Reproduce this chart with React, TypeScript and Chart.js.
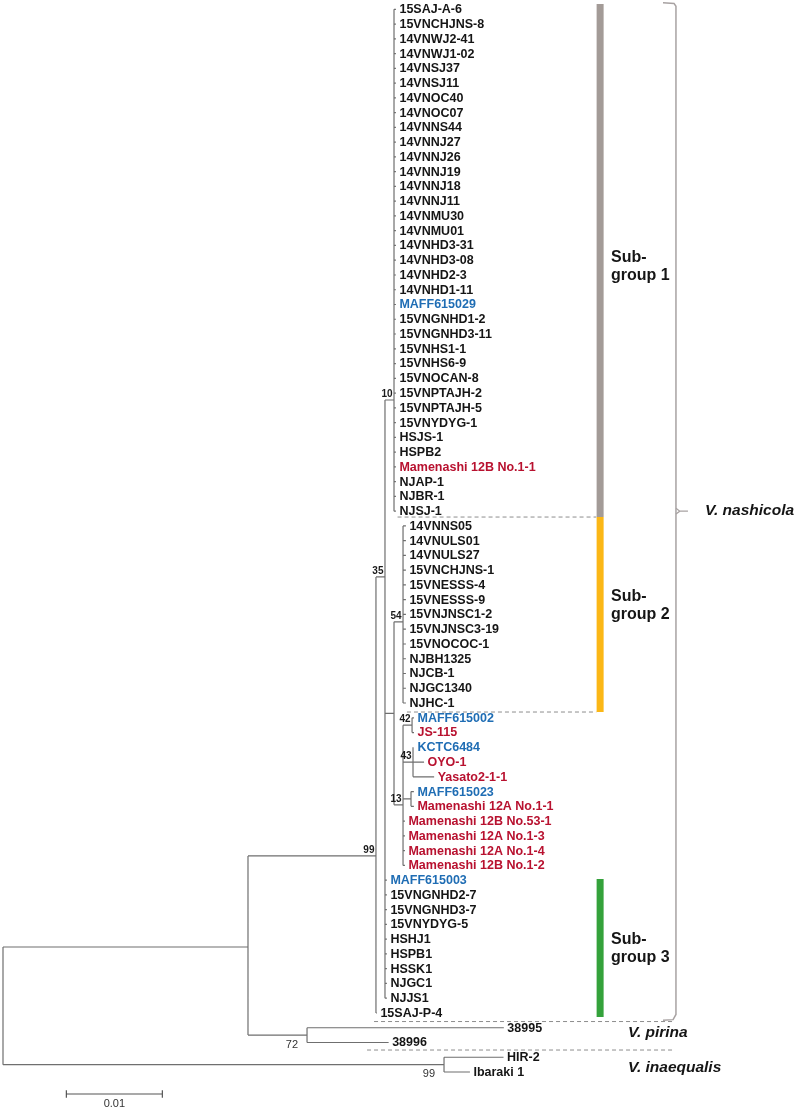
import React, { useEffect, useRef } from "react";
import { Chart, registerables } from "chart.js";

Chart.register(...registerables);

const FONT = '"Liberation Sans", Arial, Helvetica, sans-serif';

// ---------------- leaves (display order, top to bottom) ----------------
const subgroup1Names = [
  "15SAJ-A-6", "15VNCHJNS-8", "14VNWJ2-41", "14VNWJ1-02", "14VNSJ37", "14VNSJ11",
  "14VNOC40", "14VNOC07", "14VNNS44", "14VNNJ27", "14VNNJ26", "14VNNJ19", "14VNNJ18",
  "14VNNJ11", "14VNMU30", "14VNMU01", "14VNHD3-31", "14VNHD3-08", "14VNHD2-3",
  "14VNHD1-11", "MAFF615029", "15VNGNHD1-2", "15VNGNHD3-11", "15VNHS1-1", "15VNHS6-9",
  "15VNOCAN-8", "15VNPTAJH-2", "15VNPTAJH-5", "15VNYDYG-1", "HSJS-1", "HSPB2",
  "Mamenashi 12B No.1-1", "NJAP-1", "NJBR-1", "NJSJ-1",
];
const subgroup1Lengths = [
  0.0002, 0.0002, 0.0002, 0.0002, 0.0002, 0.0002, 0.0002, 0.0002, 0.0002, 0.0002,
  0.0002, 0.0002, 0.0002, 0.0002, 0.0002, 0.0002, 0.0002, 0.0002, 0.0002, 0.0002,
  0.0002, 0.0002, 0.0002, 0.0002, 0.0002, 0.0002, 0.0002, 0.0002, 0.0002, 0.0002,
  0.0002, 0.0002, 0.0002, 0.0002, 0.0002,
];
const subgroup2Names = [
  "14VNNS05", "14VNULS01", "14VNULS27", "15VNCHJNS-1", "15VNESSS-4", "15VNESSS-9",
  "15VNJNSC1-2", "15VNJNSC3-19", "15VNOCOC-1", "NJBH1325", "NJCB-1", "NJGC1340", "NJHC-1",
];
const subgroup2Lengths = [
  0.0003, 0.0003, 0.0003, 0.0003, 0.0003, 0.0003, 0.0003, 0.0003, 0.0003, 0.0003,
  0.0003, 0.0003, 0.0003,
];
const clade42Names = ["MAFF615002", "JS-115"];
const clade42Lengths = [0.0002, 0.0002];
const clade43Names = ["KCTC6484", "OYO-1", "Yasato2-1-1"];
const clade43Lengths = [0.0001, 0.00115, 0.0022];
const pairNames = ["MAFF615023", "Mamenashi 12A No.1-1"];
const pairLengths = [0.0003, 0.0003];
const clade13Names = [
  "Mamenashi 12B No.53-1", "Mamenashi 12A No.1-3", "Mamenashi 12A No.1-4", "Mamenashi 12B No.1-2",
];
const clade13Lengths = [0.0002, 0.0002, 0.0002, 0.0002];
const subgroup3Names = [
  "MAFF615003", "15VNGNHD2-7", "15VNGNHD3-7", "15VNYDYG-5", "HSHJ1", "HSPB1", "HSSK1",
  "NJGC1", "NJJS1",
];
const subgroup3Lengths = [0.0002, 0.0002, 0.0002, 0.0002, 0.0002, 0.0002, 0.0002, 0.0002, 0.0002];
const basalNames = ["15SAJ-P-4"];
const basalLengths = [0.0001];
const pirinaNames = ["38995", "38996"];
const pirinaLengths = [0.0205, 0.0085];
const inaequalisNames = ["HIR-2", "Ibaraki 1"];
const inaequalisLengths = [0.0062, 0.0027];

const blueStrains = ["MAFF615029", "MAFF615002", "KCTC6484", "MAFF615023", "MAFF615003"];
const redStrains = [
  "Mamenashi 12B No.1-1", "JS-115", "OYO-1", "Yasato2-1-1", "Mamenashi 12A No.1-1",
  "Mamenashi 12B No.53-1", "Mamenashi 12A No.1-3", "Mamenashi 12A No.1-4", "Mamenashi 12B No.1-2",
];

// ---------------- internal nodes ----------------
const nodeIds = ["root", "A", "N99", "N35", "N10", "Nmid", "N54", "N13", "N42", "N43", "Npair", "N72", "NINQ"];
const nodeParents = [null, "root", "A", "N99", "N35", "N35", "Nmid", "Nmid", "N13", "N13", "N13", "A", "root"];
const nodeLengths = [0, 0.02552, 0.01333, 0.00094, 0.00094, 0.00094, 0.00094, 0.00094, 0.00094, 0.00104, 0.00083, 0.00615, 0.04594];
const nodeRows = [67.5, 63.53, 57.36, 38.46, 26.47, 47.7, 41.5, 53.9, 48.5, 51.0, 53.5, 69.5, 71.5];
const nodeSupport = ["", "", "99", "35", "10", "", "54", "13", "42", "43", "", "72", "99"];
const supportBelow = ["N72", "NINQ"];

// ---------------- groups & species ----------------
const groupLines = [["Sub-", "group 1"], ["Sub-", "group 2"], ["Sub-", "group 3"]];
const groupRowStart = [-0.36, 34.4, 58.92];
const groupRowEnd = [34.4, 47.61, 68.27];
const groupLabelRow = [17.4, 40.43, 63.66];
const speciesNames = ["V. nashicola", "V. pirina", "V. inaequalis"];
const speciesRows = [34.0, 69.36, 71.73];

const scaleBarLength = 0.01;
const scaleBarLabel = "0.01";

// ---------------- layout (axis units) ----------------
const X_MIN = -0.0003125;
const X_MAX = 0.0827083;
const Y_MIN = -0.63;
const Y_MAX = 74.573;
const BAR_X = 0.0622;
const GROUP_LABEL_X = 0.06333;
const BRACKET_X = 0.0701;
const BRACKET_HOOK_X = 0.06875;
const BRACKET_TIP_X = 0.07135;
const NASHICOLA_X = 0.07313;
const OUTGROUP_LABEL_X = 0.0651;
const SCALE_X0 = 0.0066;
const SCALE_ROW = 73.49;
const SCALE_LABEL_ROW = 74.17;
const dashedRows = [34.4, 47.61, 68.58, 70.51];
const dashedStart = [0.0411, 0.04208, 0.03865, 0.03792];
const dashedEnd = [0.0618, 0.0618, 0.06979, 0.06979];

const groupColors = ["#a39b97", "#fbb716", "#34a23b"];
const TREE_COLOR = "#6f6f6f";

// ---------------- build tree geometry ----------------
type Leaf = { name: string; parent: string; x: number; row: number };

function buildTree() {
  const dist: Record<string, number> = {};
  const rowOf: Record<string, number> = {};
  nodeIds.forEach((id, i) => {
    const p = nodeParents[i];
    dist[id] = (p ? dist[p] : 0) + nodeLengths[i];
    rowOf[id] = nodeRows[i];
  });
  const clades: [string, string[], number[]][] = [
    ["N10", subgroup1Names, subgroup1Lengths],
    ["N54", subgroup2Names, subgroup2Lengths],
    ["N42", clade42Names, clade42Lengths],
    ["N43", clade43Names, clade43Lengths],
    ["Npair", pairNames, pairLengths],
    ["N13", clade13Names, clade13Lengths],
    ["N35", subgroup3Names, subgroup3Lengths],
    ["N99", basalNames, basalLengths],
    ["N72", pirinaNames, pirinaLengths],
    ["NINQ", inaequalisNames, inaequalisLengths],
  ];
  const leaves: Leaf[] = [];
  let r = 0;
  clades.forEach(([parent, names, lens]) => {
    names.forEach((n, i) => {
      leaves.push({ name: n, parent, x: dist[parent] + lens[i], row: r });
      r++;
    });
  });
  const childRows: Record<string, number[]> = {};
  nodeIds.forEach((id) => (childRows[id] = []));
  leaves.forEach((l) => childRows[l.parent].push(l.row));
  nodeIds.forEach((id, i) => {
    const p = nodeParents[i];
    if (p) childRows[p].push(nodeRows[i]);
  });
  const pts: { x: number; y: number | null }[] = [];
  leaves.forEach((l) => {
    pts.push({ x: dist[l.parent], y: l.row }, { x: l.x, y: l.row }, { x: l.x, y: null });
  });
  nodeIds.forEach((id, i) => {
    const p = nodeParents[i];
    if (p) pts.push({ x: dist[p], y: nodeRows[i] }, { x: dist[id], y: nodeRows[i] }, { x: dist[id], y: null });
    const rows = childRows[id];
    pts.push({ x: dist[id], y: Math.min(...rows) }, { x: dist[id], y: Math.max(...rows) }, { x: dist[id], y: null });
  });
  return { dist, leaves, pts };
}

export default function App() {
  const ref = useRef<HTMLCanvasElement | null>(null);
  useEffect(() => {
    if (!ref.current) return;
    const { dist, leaves, pts } = buildTree();

    const line = (data: any[], color: string, width: number, extra: any = {}) => ({
      data,
      showLine: true,
      borderColor: color,
      backgroundColor: color,
      borderWidth: width,
      pointRadius: 0,
      pointHoverRadius: 0,
      spanGaps: false,
      ...extra,
    });

    const datasets: any[] = [line(pts, TREE_COLOR, 1.2)];
    groupColors.forEach((c, i) => {
      datasets.push(
        line([{ x: BAR_X, y: groupRowStart[i] }, { x: BAR_X, y: groupRowEnd[i] }], c, 7, { borderCapStyle: "butt" })
      );
    });
    dashedRows.forEach((r, i) => {
      datasets.push(
        line([{ x: dashedStart[i], y: r }, { x: dashedEnd[i], y: r }], "#8d8d8d", 1, { borderDash: [4, 3] })
      );
    });
    // bracket for V. nashicola
    datasets.push(
      line(
        [
          { x: BRACKET_HOOK_X, y: -0.45 },
          { x: BRACKET_X - 0.0002, y: -0.4 },
          { x: BRACKET_X, y: -0.2 },
          { x: BRACKET_X, y: 68.1 },
          { x: BRACKET_X - 0.0003, y: 68.45 },
          { x: BRACKET_HOOK_X, y: 68.5 },
        ],
        "#a8a2a2",
        1.5
      )
    );
    datasets.push(
      line(
        [
          { x: BRACKET_X, y: speciesRows[0] - 0.2 },
          { x: BRACKET_X + 0.0004, y: speciesRows[0] },
          { x: BRACKET_TIP_X, y: speciesRows[0] },
          { x: BRACKET_X + 0.0004, y: speciesRows[0], },
          { x: BRACKET_X, y: speciesRows[0] + 0.2 },
        ],
        "#a8a2a2",
        1.3
      )
    );
    // scale bar
    datasets.push(
      line(
        [
          { x: SCALE_X0, y: SCALE_ROW - 0.25 },
          { x: SCALE_X0, y: SCALE_ROW + 0.25 },
          { x: SCALE_X0, y: null },
          { x: SCALE_X0, y: SCALE_ROW },
          { x: SCALE_X0 + scaleBarLength, y: SCALE_ROW },
          { x: SCALE_X0 + scaleBarLength, y: null },
          { x: SCALE_X0 + scaleBarLength, y: SCALE_ROW - 0.25 },
          { x: SCALE_X0 + scaleBarLength, y: SCALE_ROW + 0.25 },
        ],
        "#555",
        1.2
      )
    );

    const textPlugin = {
      id: "treeText",
      afterDatasetsDraw(chart: any) {
        const { ctx } = chart;
        const xs = chart.scales.x;
        const ys = chart.scales.y;
        ctx.save();
        // leaf labels
        ctx.font = `bold 12.5px ${FONT}`;
        ctx.textAlign = "left";
        ctx.textBaseline = "middle";
        leaves.forEach((l) => {
          ctx.fillStyle = blueStrains.includes(l.name)
            ? "#1f6db4"
            : redStrains.includes(l.name)
            ? "#b8112f"
            : "#151515";
          ctx.fillText(l.name, xs.getPixelForValue(l.x) + 3.5, ys.getPixelForValue(l.row) + 0.5);
        });
        // bootstrap values
        nodeIds.forEach((id, i) => {
          const s = nodeSupport[i];
          if (!s) return;
          const px = xs.getPixelForValue(dist[id]);
          const py = ys.getPixelForValue(nodeRows[i]);
          ctx.textAlign = "right";
          if (supportBelow.includes(id)) {
            ctx.font = `11px ${FONT}`;
            ctx.fillStyle = "#333";
            ctx.textBaseline = "top";
            ctx.fillText(s, px - 9, py + 4);
          } else {
            ctx.font = `bold 10px ${FONT}`;
            ctx.fillStyle = "#1a1a1a";
            ctx.textBaseline = "bottom";
            ctx.fillText(s, px - 1.5, py - 1);
          }
        });
        // subgroup labels
        ctx.font = `bold 16px ${FONT}`;
        ctx.fillStyle = "#151515";
        ctx.textAlign = "left";
        ctx.textBaseline = "middle";
        groupLines.forEach((lines, i) => {
          const cy = ys.getPixelForValue(groupLabelRow[i]);
          ctx.fillText(lines[0], xs.getPixelForValue(GROUP_LABEL_X), cy - 9);
          ctx.fillText(lines[1], xs.getPixelForValue(GROUP_LABEL_X), cy + 9);
        });
        // species labels
        ctx.font = `italic bold 15.5px ${FONT}`;
        ctx.fillText(speciesNames[0], xs.getPixelForValue(NASHICOLA_X), ys.getPixelForValue(speciesRows[0]));
        ctx.fillText(speciesNames[1], xs.getPixelForValue(OUTGROUP_LABEL_X), ys.getPixelForValue(speciesRows[1]));
        ctx.fillText(speciesNames[2], xs.getPixelForValue(OUTGROUP_LABEL_X), ys.getPixelForValue(speciesRows[2]));
        // scale label
        ctx.font = `11px ${FONT}`;
        ctx.fillStyle = "#333";
        ctx.textAlign = "center";
        ctx.fillText(
          scaleBarLabel,
          xs.getPixelForValue(SCALE_X0 + scaleBarLength / 2),
          ys.getPixelForValue(SCALE_LABEL_ROW)
        );
        ctx.restore();
      },
    };

    const chart = new Chart(ref.current, {
      type: "scatter",
      data: { datasets },
      options: {
        animation: false,
        responsive: false,
        layout: { padding: 0 },
        plugins: { legend: { display: false }, tooltip: { enabled: false } },
        scales: {
          x: { type: "linear", display: false, min: X_MIN, max: X_MAX },
          y: { type: "linear", display: false, reverse: true, min: Y_MIN, max: Y_MAX },
        },
      },
      plugins: [textPlugin],
    } as any);
    return () => chart.destroy();
  }, []);

  return (
    <div style={{ position: "absolute", left: 0, top: 0, width: 797, height: 1110, background: "#fff" }}>
      <canvas ref={ref} width={797} height={1110} />
    </div>
  );
}
